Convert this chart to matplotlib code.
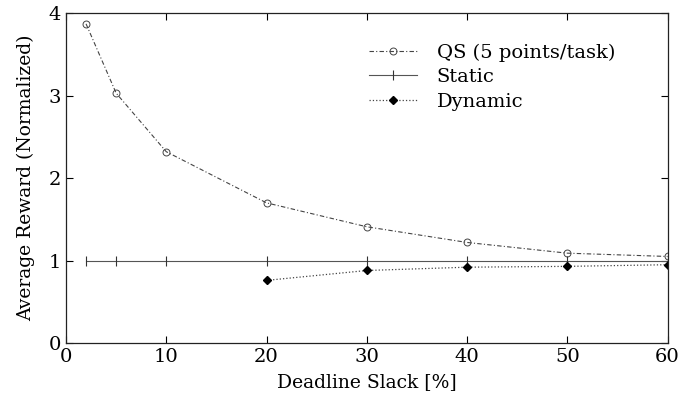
import numpy as np
from matplotlib import pyplot as plt

# values
qs_x = [2, 5, 10, 20, 30, 40, 50, 60]
qs_y = [3.87, 3.03, 2.32, 1.70, 1.41, 1.22, 1.09, 1.05]

static_x = [2, 5, 10, 20, 30, 40, 50, 60]
static_y = [1.0, 1.0, 1.0, 1.0, 1.0, 1.0, 1.0, 1.0]

dyn_x = [20, 30, 40, 50, 60]
dyn_y = [0.76, 0.88, 0.92, 0.93, 0.95]

plt.rcParams['font.family'] = ['DejaVu Serif']

fig = plt.figure(figsize=(6.97, 3.98), dpi=100)
ax = fig.add_axes([0.0947, 0.138, 0.863, 0.829])

ax.plot(qs_x, qs_y, linestyle=(0, (4, 2, 1, 2)), color='#444444', linewidth=0.8,
        marker='o', markersize=5, markerfacecolor='none',
        markeredgecolor='#444444', markeredgewidth=0.7,
        label='QS (5 points/task)')
ax.plot(static_x, static_y, linestyle='-', color='#555555', linewidth=0.8,
        marker='|', markersize=7, markeredgecolor='#333333',
        markeredgewidth=0.8, label='Static')
ax.plot(dyn_x, dyn_y, linestyle=':', color='#444444', linewidth=0.9,
        marker='D', markersize=4.5, markerfacecolor='black',
        markeredgecolor='black', label='Dynamic')

ax.set_xlim(0, 60)
ax.set_ylim(0, 4)
ax.set_xticks(np.arange(0, 61, 10))
ax.set_yticks(np.arange(0, 5, 1))
ax.tick_params(direction='in', top=True, right=True, length=5,
               labelsize=14, width=0.8)
for s in ax.spines.values():
    s.set_linewidth(0.9)
    s.set_color('#222222')

ax.set_xlabel('Deadline Slack [%]', fontsize=13.5, labelpad=5)
ax.set_ylabel('Average Reward (Normalized)', fontsize=13.5, labelpad=10)

ax.legend(loc='upper right', bbox_to_anchor=(0.942, 0.96), frameon=False,
          fontsize=14, handlelength=2.5, labelspacing=0.32,
          handletextpad=1.0)

fig.savefig('out.png', dpi=100)
